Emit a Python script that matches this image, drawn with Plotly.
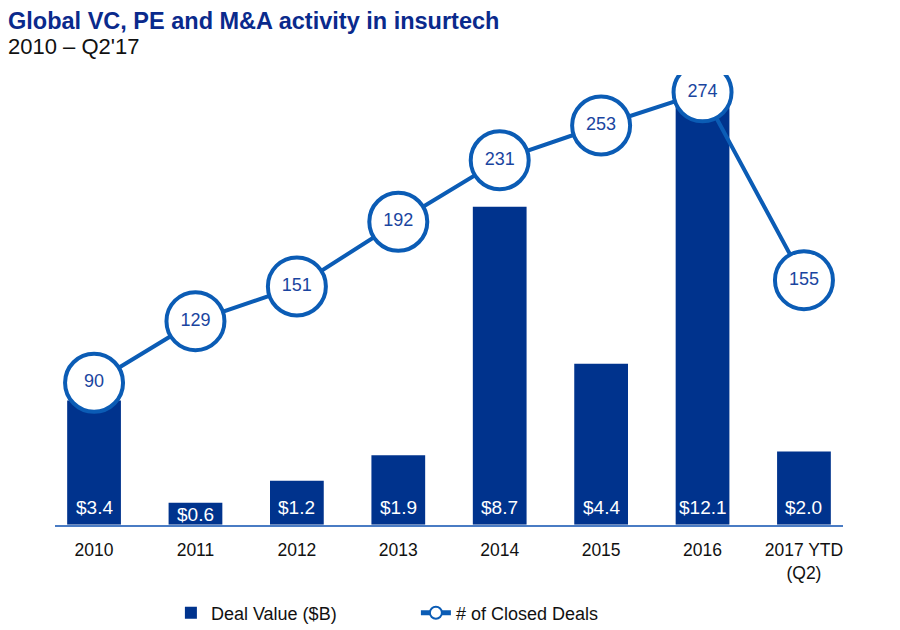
import plotly.graph_objects as go

years = ["2010", "2011", "2012", "2013", "2014", "2015", "2016", "2017 YTD<br>(Q2)"]
deal_value = [3.4, 0.6, 1.2, 1.9, 8.7, 4.4, 12.1, 2.0]
closed_deals = [90, 129, 151, 192, 231, 253, 274, 155]

NAVY = "#00338D"
BLUE = "#0B5CB5"
FONT = "Liberation Sans, Arial, sans-serif"

fig = go.Figure()

fig.add_trace(go.Bar(
    x=years, y=deal_value, name="Deal Value ($B)",
    marker=dict(color=NAVY, line=dict(width=0)),
    width=0.53, yaxis="y",
))

# connecting line with the big white circles
fig.add_trace(go.Scatter(
    x=years, y=closed_deals, name="# of Closed Deals",
    mode="lines+markers", yaxis="y2",
    line=dict(color=BLUE, width=4),
    marker=dict(size=58, color="white", line=dict(color=BLUE, width=4)),
))

# numbers inside the circles (separate so the legend shows no "Aa")
fig.add_trace(go.Scatter(
    x=years, y=closed_deals, mode="text", yaxis="y2",
    text=[str(v) for v in closed_deals], textposition="middle center",
    textfont=dict(family=FONT, size=18, color="#1A45A0"),
    showlegend=False, hoverinfo="skip",
))

# white value labels at the foot of each bar
# (category index, since "2010" etc. would be read as a number)
for i, v in enumerate(deal_value):
    fig.add_annotation(
        x=i, y=0, yref="y", text=f"${v:.1f}", showarrow=False,
        yanchor="bottom", yshift=5 if v >= 1 else -2,
        font=dict(family=FONT, size=19, color="white"),
    )

fig.add_annotation(
    xref="paper", yref="paper", x=-0.062, y=1.063,
    xanchor="left", yanchor="middle", showarrow=False,
    text="2010 \u2013 Q2'17", font=dict(family=FONT, size=22, color="#111111"),
)

fig.update_layout(
    width=900, height=630,
    margin=dict(l=47, r=65, t=67, b=103),
    paper_bgcolor="white", plot_bgcolor="white",
    font=dict(family=FONT, size=18, color="#111111"),
    title=dict(
        text="<b>Global VC, PE and M&A activity in insurtech</b>",
        xref="container", yref="container", x=0.0, y=1 - 13 / 630,
        xanchor="left", yanchor="middle",
        font=dict(family=FONT, size=23.5, color="#0A2A8C"),
    ),
    xaxis=dict(
        type="category", range=[-0.385, 7.385],
        showline=True, linecolor="#4A7CC4", linewidth=2,
        showgrid=False, ticks="", ticklabelstandoff=8,
        tickfont=dict(family=FONT, size=17.5, color="#111111"),
    ),
    yaxis=dict(range=[0, 12.3], visible=False, showgrid=False),
    yaxis2=dict(range=[0, 285], overlaying="y", visible=False, showgrid=False),
    legend=dict(
        orientation="h", xref="container", yref="container",
        x=0.181, y=1 - 605 / 630, xanchor="left", yanchor="middle",
        itemsizing="constant", entrywidth=200,
        font=dict(family=FONT, size=18, color="#111111"),
    ),
    showlegend=True,
)

fig.write_html("out.html")
